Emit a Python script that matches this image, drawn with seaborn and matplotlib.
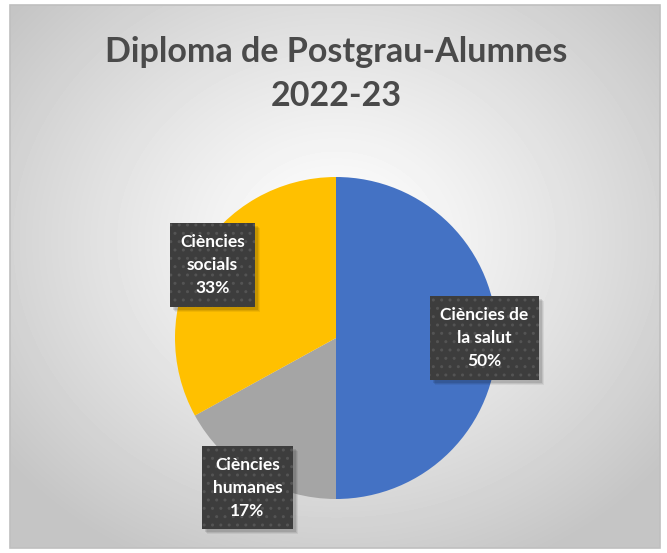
import numpy as np
import matplotlib.pyplot as plt
import matplotlib.transforms as mtransforms
import seaborn as sns
from matplotlib.patches import Rectangle

sns.set_theme(style='white')
plt.rcParams['font.family'] = ['Lato', 'DejaVu Sans']

categories = ['Ciències de\nla salut', 'Ciències\nhumanes', 'Ciències\nsocials']
values = [50, 17, 33]
colors = ['#4472C4', '#A5A5A5', '#FFC000']
title = 'Diploma de Postgrau-Alumnes\n2022-23'

W, H = 667, 553
fig = plt.figure(figsize=(W / 100, H / 100), dpi=100)

# background with radial gradient and frame
bg = fig.add_axes([0, 0, 1, 1])
bg.set_xlim(0, W)
bg.set_ylim(H, 0)
bg.axis('off')
x0, y0, x1, y1 = 10, 5, 660, 548
yy, xx = np.mgrid[y0:y1, x0:x1]
r = np.hypot((xx - 336) / 420, (yy - 240) / 360)
shade = 1.0 - 0.23 * np.clip(r, 0, 1) ** 1.2
bg.imshow(shade, cmap='gray', vmin=0, vmax=1, extent=(x0, x1, y1, y0), zorder=0)
bg.add_patch(Rectangle((x0, y0), x1 - x0, y1 - y0, fill=False, ec='#bfbfbf', lw=1.2, zorder=1))

bg.text(336, 74, title, ha='center', va='center', fontsize=24.5, fontweight='bold',
        color='#4a4a4a', linespacing=1.5)

# pie
cx, cy, rad = 336, 338, 161
ax = fig.add_axes([(cx - rad) / W, 1 - (cy + rad) / H, 2 * rad / W, 2 * rad / H])
wedges, _ = ax.pie(values, colors=colors, startangle=90, counterclock=False,
                   wedgeprops=dict(linewidth=0))
ax.set_xlim(-1, 1)
ax.set_ylim(-1, 1)
ax.set_aspect('auto')
ax.axis('off')

dists = [0.92, 1.08, 0.89]
labels = []
for w, cat, v, d in zip(wedges, categories, values, dists):
    ang = np.deg2rad((w.theta1 + w.theta2) / 2)
    x, y = d * np.cos(ang), d * np.sin(ang)
    t = ax.annotate(f'{cat}\n{v}%', (x, y), ha='center', va='center', fontsize=12.5,
                    fontweight='bold', color='white', linespacing=1.55,
                    annotation_clip=False, zorder=4,
                    bbox=dict(boxstyle='square,pad=0.6', fc='#3d3d3d', ec='#545454',
                              hatch='..', lw=0))
    labels.append(t)

# soft drop shadows under the label boxes
fig.canvas.draw()
for t in labels:
    ext = t.get_bbox_patch().get_window_extent()
    for k, a in ((5, 0.06), (4, 0.08), (3, 0.1)):
        ax.add_patch(Rectangle((ext.x0 + k, ext.y0 - k), ext.width, ext.height,
                               transform=mtransforms.IdentityTransform(),
                               fc='black', alpha=a, lw=0, zorder=3,
                               clip_on=False))

fig.savefig('out.png', dpi=100)
